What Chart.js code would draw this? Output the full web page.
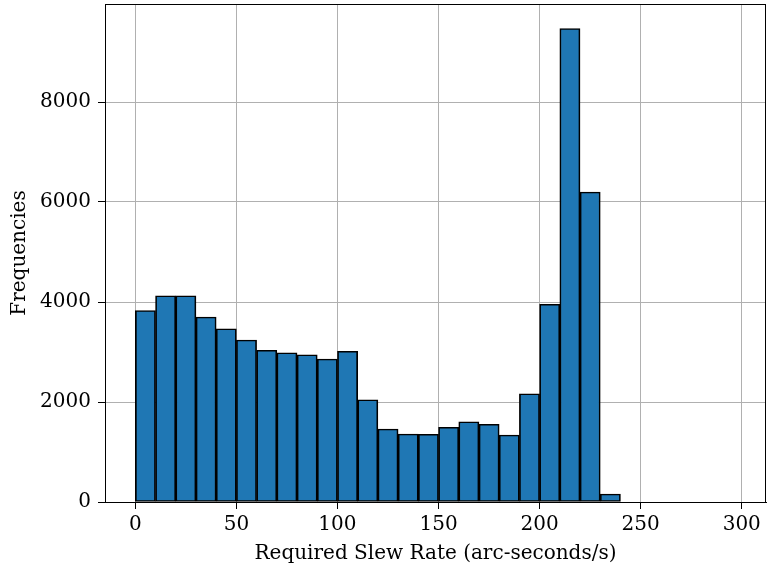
<!DOCTYPE html>
<html>
<head>
<meta charset="utf-8">
<script src="https://cdn.jsdelivr.net/npm/chart.js@4.4.1/dist/chart.umd.min.js"></script>
<style>
  html, body { margin: 0; padding: 0; background: #fff; }
  #wrap { width: 767px; height: 577px; }
</style>
</head>
<body>
<div id="wrap"><canvas id="hist" width="767" height="577"></canvas></div>
<script>
// histogram bins: 10 arc-sec/s wide, from 0 to 300
const binStarts = [0, 10, 20, 30, 40, 50, 60, 70, 80, 90, 100, 110, 120, 130, 140,
    150, 160, 170, 180, 190, 200, 210, 220, 230, 240, 250, 260, 270, 280, 290];
const binWidth = 10;
const frequencies = [3830, 4125, 4125, 3700, 3465, 3240, 3035, 2985, 2945, 2860, 3015, 2045,
    1460, 1360, 1355, 1495, 1605, 1555, 1340, 2165, 3955, 9470, 6200, 160,
    0, 0, 0, 0, 0, 0];
const xTicks = [0, 50, 100, 150, 200, 250, 300];
const yTicks = [0, 2000, 4000, 6000, 8000];

const serif = "'DejaVu Serif', 'Liberation Serif', serif";

// full box around the plot area, like a matplotlib axes frame
const frame = {
    id: 'frame',
    afterDraw: function (chart) {
        const a = chart.chartArea;
        const ctx = chart.ctx;
        ctx.save();
        ctx.strokeStyle = '#000';
        ctx.lineWidth = 1;
        ctx.strokeRect(a.left + 0.5, a.top + 0.5, a.right - a.left - 1, a.bottom - a.top);
        ctx.restore();
    }
};

const points = binStarts.map(function (s, i) {
    return {x: s + binWidth / 2, y: frequencies[i]};
});

const ctx = document.getElementById('hist').getContext('2d');
new Chart(ctx, {
    type: 'bar',
    data: {
        datasets: [{
                data: points,
                backgroundColor: '#1f77b4',
                borderColor: '#000',
                borderWidth: 1.7,
                borderSkipped: false,
                barPercentage: 1,
                categoryPercentage: 1
            }]
    },
    options: {
        responsive: false,
        animation: false,
        layout: {padding: {top: 4, right: 1, left: 0, bottom: 0}},
        plugins: {legend: {display: false}, tooltip: {enabled: false}},
        scales: {
            x: {
                type: 'linear',
                offset: false,
                min: -15,
                max: 312,
                z: 1,
                afterBuildTicks: function (scale) {
                    scale.ticks = xTicks.map(v => ({value: v}));
                },
                afterFit: function (scale) {
                    scale.height = 75;
                    scale.paddingLeft = 0;
                    scale.paddingRight = 0;
                },
                ticks: {
                    color: '#000',
                    padding: 4,
                    maxRotation: 0,
                    callback: v => String(v),
                    font: {family: serif, size: 20}
                },
                grid: {color: '#b0b0b0', lineWidth: 1, tickLength: 7, tickColor: '#000', offset: false},
                border: {color: '#000', width: 1},
                title: {
                    display: true,
                    text: 'Required Slew Rate (arc-seconds/s)',
                    color: '#000',
                    padding: {top: 11, bottom: 11},
                    font: {family: serif, size: 20}
                }
            },
            y: {
                min: 0,
                max: 9960,
                z: 1,
                afterBuildTicks: function (scale) {
                    scale.ticks = yTicks.map(v => ({value: v}));
                },
                afterFit: function (scale) {
                    scale.width = 105;
                    scale.paddingTop = 0;
                    scale.paddingBottom = 0;
                },
                ticks: {
                    color: '#000',
                    padding: 7,
                    callback: v => String(v),
                    font: {family: serif, size: 20}
                },
                grid: {color: '#b0b0b0', lineWidth: 1, tickLength: 7, tickColor: '#000'},
                border: {color: '#000', width: 1},
                title: {
                    display: true,
                    text: 'Frequencies',
                    color: '#000',
                    padding: {top: 8, bottom: 8},
                    font: {family: serif, size: 20}
                }
            }
        }
    },
    plugins: [frame]
});
</script>
</body>
</html>
